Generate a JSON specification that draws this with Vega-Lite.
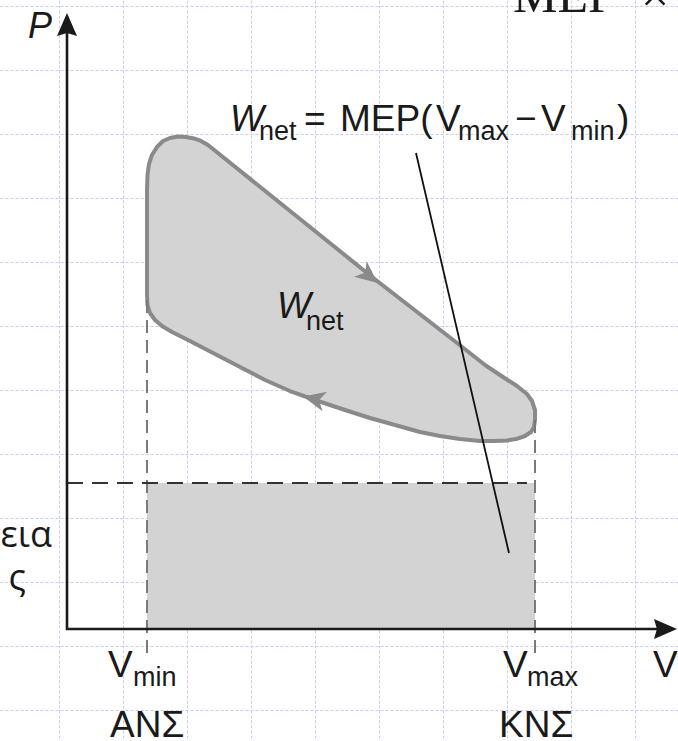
{
  "$schema": "https://vega.github.io/schema/vega-lite/v6.json",
  "width": 678,
  "height": 741,
  "autosize": {"type": "none"},
  "padding": 0,
  "background": "white",
  "config": {"view": {"stroke": null}},
  "datasets": {
    "loop": [
      {"i": 1, "x": 1.375, "y": 7.125}, {"i": 2, "x": 1.383, "y": 7.359}, {"i": 3, "x": 1.406, "y": 7.531},
      {"i": 4, "x": 1.453, "y": 7.672}, {"i": 5, "x": 1.531, "y": 7.797}, {"i": 6, "x": 1.625, "y": 7.891},
      {"i": 7, "x": 1.734, "y": 7.938}, {"i": 8, "x": 1.859, "y": 7.961}, {"i": 9, "x": 1.984, "y": 7.953},
      {"i": 10, "x": 2.109, "y": 7.930}, {"i": 11, "x": 2.219, "y": 7.891}, {"i": 12, "x": 2.328, "y": 7.828},
      {"i": 13, "x": 3.766, "y": 6.672}, {"i": 14, "x": 4.891, "y": 5.766}, {"i": 15, "x": 5.797, "y": 5.0625},
      {"i": 16, "x": 6.281, "y": 4.6875}, {"i": 17, "x": 6.656, "y": 4.391}, {"i": 18, "x": 6.9375, "y": 4.203},
      {"i": 19, "x": 7.156, "y": 4.0625}, {"i": 20, "x": 7.3125, "y": 3.9375}, {"i": 21, "x": 7.391, "y": 3.828},
      {"i": 22, "x": 7.4375, "y": 3.6875}, {"i": 23, "x": 7.4375, "y": 3.531},
      {"i": 24, "x": 7.422, "y": 3.422}, {"i": 25, "x": 7.375, "y": 3.344}, {"i": 26, "x": 7.281, "y": 3.281},
      {"i": 27, "x": 7.141, "y": 3.234}, {"i": 28, "x": 7.0, "y": 3.211}, {"i": 29, "x": 6.8125, "y": 3.203},
      {"i": 30, "x": 6.578, "y": 3.203}, {"i": 31, "x": 6.266, "y": 3.234}, {"i": 32, "x": 5.953, "y": 3.281},
      {"i": 33, "x": 5.641, "y": 3.344}, {"i": 34, "x": 5.25, "y": 3.453}, {"i": 35, "x": 4.859, "y": 3.5625},
      {"i": 36, "x": 4.469, "y": 3.6875}, {"i": 37, "x": 4.047, "y": 3.828}, {"i": 38, "x": 3.609, "y": 3.984},
      {"i": 39, "x": 3.219, "y": 4.156}, {"i": 40, "x": 2.828, "y": 4.359}, {"i": 41, "x": 2.4375, "y": 4.5625},
      {"i": 42, "x": 2.047, "y": 4.766}, {"i": 43, "x": 1.766, "y": 4.906}, {"i": 44, "x": 1.609, "y": 5.0},
      {"i": 45, "x": 1.5, "y": 5.094}, {"i": 46, "x": 1.422, "y": 5.203}, {"i": 47, "x": 1.383, "y": 5.328},
      {"i": 48, "x": 1.375, "y": 5.484}
    ],
    "mepArea": [{"x": 1.375, "x2": 7.4375, "y": 0.2656, "y2": 2.547}],
    "strokeLimits": [
      {"name": "Vmin", "x": 1.375, "y": 5.406, "y2": -0.22},
      {"name": "Vmax", "x": 7.4375, "y": 3.531, "y2": -0.22}
    ],
    "mepLevel": [{"x": 0.125, "x2": 7.3125, "y": 2.547}],
    "axesLines": [
      {"i": 1, "x": 0.125, "y": 9.656},
      {"i": 2, "x": 0.125, "y": 0.2656},
      {"i": 3, "x": 9.42, "y": 0.2656}
    ],
    "leader": [{"x": 5.578, "y": 7.703, "x2": 7.031, "y2": 1.453}],
    "arrowP": [{"x": 0.125, "y": 9.711}],
    "arrowV": [{"x": 9.477, "y": 0.2656}],
    "arrowExpansion": [{"x": 4.844, "y": 5.781}],
    "arrowCompression": [{"x": 3.984, "y": 3.859}],
    "textMain": [
      {"t": "=", "x": 3.828, "y": 8.047},
      {"t": "MEP(", "x": 4.391, "y": 8.047},
      {"t": "V", "x": 5.891, "y": 8.047},
      {"t": "−", "x": 7.125, "y": 8.047},
      {"t": "V", "x": 7.531, "y": 8.047},
      {"t": ")", "x": 8.719, "y": 8.047},
      {"t": "V", "x": 0.766, "y": -0.484},
      {"t": "V", "x": 6.9375, "y": -0.484},
      {"t": "V", "x": 9.281, "y": -0.484},
      {"t": "ΑΝΣ", "x": 0.797, "y": -1.422},
      {"t": "ΚΝΣ", "x": 6.875, "y": -1.422}
    ],
    "textItalic": [
      {"t": "W", "x": 2.672, "y": 8.047},
      {"t": "W", "x": 3.406, "y": 5.125},
      {"t": "P", "x": -0.484, "y": 9.5}
    ],
    "textSub": [
      {"t": "net", "x": 3.125, "y": 7.906},
      {"t": "max", "x": 6.234, "y": 7.906},
      {"t": "min", "x": 8.0, "y": 7.906},
      {"t": "net", "x": 3.859, "y": 4.9375},
      {"t": "min", "x": 1.156, "y": -0.625},
      {"t": "max", "x": 7.3125, "y": -0.625}
    ],
    "textSide": [
      {"t": "εια", "x": -0.109, "y": 1.547},
      {"t": "ς", "x": -0.516, "y": 0.875}
    ],
    "textSerif": [
      {"t": "MEP", "x": 7.094, "y": 9.906},
      {"t": "×", "x": 9.094, "y": 9.906}
    ]
  },
  "encoding": {
    "x": {
      "field": "x", "type": "quantitative",
      "scale": {"domain": [-0.921875, 9.671875], "nice": false, "zero": false},
      "axis": {"values": [0, 1, 2, 3, 4, 5, 6, 7, 8, 9], "grid": true, "gridColor": "#c4cef2", "gridDash": [3, 2], "gridWidth": 1, "domain": false, "ticks": false, "labels": false, "title": null}
    },
    "y": {
      "field": "y", "type": "quantitative",
      "scale": {"domain": [-1.484375, 10.09375], "nice": false, "zero": false},
      "axis": {"values": [-1, 0, 1, 2, 3, 4, 5, 6, 7, 8, 9, 10], "grid": true, "gridColor": "#c4cef2", "gridDash": [3, 2], "gridWidth": 1, "domain": false, "ticks": false, "labels": false, "title": null}
    }
  },
  "layer": [
    {
      "data": {"name": "mepArea"},
      "mark": {"type": "rect", "fill": "#d3d3d3"},
      "encoding": {"x2": {"field": "x2"}, "y2": {"field": "y2"}}
    },
    {
      "data": {"name": "loop"},
      "mark": {"type": "line", "interpolate": "linear-closed", "fill": "#d3d3d3", "stroke": "#8a8a8a", "strokeWidth": 4, "strokeJoin": "round"},
      "encoding": {"order": {"field": "i"}}
    },
    {
      "data": {"name": "strokeLimits"},
      "mark": {"type": "rule", "stroke": "#7a7a7a", "strokeWidth": 2, "strokeDash": [13, 7]},
      "encoding": {"y2": {"field": "y2"}}
    },
    {
      "data": {"name": "mepLevel"},
      "mark": {"type": "rule", "stroke": "#333333", "strokeWidth": 2.2, "strokeDash": [16, 9]},
      "encoding": {"x2": {"field": "x2"}}
    },
    {
      "data": {"name": "axesLines"},
      "mark": {"type": "line", "stroke": "#1a1a1a", "strokeWidth": 2.6, "strokeJoin": "miter"},
      "encoding": {"order": {"field": "i"}}
    },
    {
      "data": {"name": "leader"},
      "mark": {"type": "rule", "stroke": "#111111", "strokeWidth": 1.8},
      "encoding": {"x2": {"field": "x2"}, "y2": {"field": "y2"}}
    },
    {
      "data": {"name": "arrowP"},
      "mark": {"type": "point", "shape": "M0,-1L0.87,1L0,0.75L-0.87,1Z", "filled": true, "fill": "#1a1a1a", "strokeWidth": 0, "size": 529, "opacity": 1, "angle": 0}
    },
    {
      "data": {"name": "arrowV"},
      "mark": {"type": "point", "shape": "M0,-1L0.87,1L0,0.75L-0.87,1Z", "filled": true, "fill": "#1a1a1a", "strokeWidth": 0, "size": 529, "opacity": 1, "angle": 90}
    },
    {
      "data": {"name": "arrowExpansion"},
      "mark": {"type": "point", "shape": "M0,-1L0.9,1L0,0.45L-0.9,1Z", "filled": true, "fill": "#8a8a8a", "strokeWidth": 0, "size": 500, "opacity": 1, "angle": 129}
    },
    {
      "data": {"name": "arrowCompression"},
      "mark": {"type": "point", "shape": "M0,-1L0.9,1L0,0.45L-0.9,1Z", "filled": true, "fill": "#8a8a8a", "strokeWidth": 0, "size": 500, "opacity": 1, "angle": 283}
    },
    {
      "data": {"name": "textMain"},
      "mark": {"type": "text", "font": "Liberation Sans", "fontSize": 37, "align": "left", "baseline": "alphabetic", "fill": "#1a1a1a"},
      "encoding": {"text": {"field": "t"}}
    },
    {
      "data": {"name": "textItalic"},
      "mark": {"type": "text", "font": "Liberation Sans", "fontSize": 36, "fontStyle": "italic", "align": "left", "baseline": "alphabetic", "fill": "#1a1a1a"},
      "encoding": {"text": {"field": "t"}}
    },
    {
      "data": {"name": "textSub"},
      "mark": {"type": "text", "font": "Liberation Sans", "fontSize": 27, "align": "left", "baseline": "alphabetic", "fill": "#1a1a1a"},
      "encoding": {"text": {"field": "t"}}
    },
    {
      "data": {"name": "textSide"},
      "mark": {"type": "text", "font": "Open Sans", "fontSize": 36, "align": "right", "baseline": "alphabetic", "fill": "#1a1a1a"},
      "encoding": {"text": {"field": "t"}}
    },
    {
      "data": {"name": "textSerif"},
      "mark": {"type": "text", "font": "Liberation Serif", "fontSize": 50, "align": "left", "baseline": "alphabetic", "fill": "#1a1a1a"},
      "encoding": {"text": {"field": "t"}}
    }
  ]
}
